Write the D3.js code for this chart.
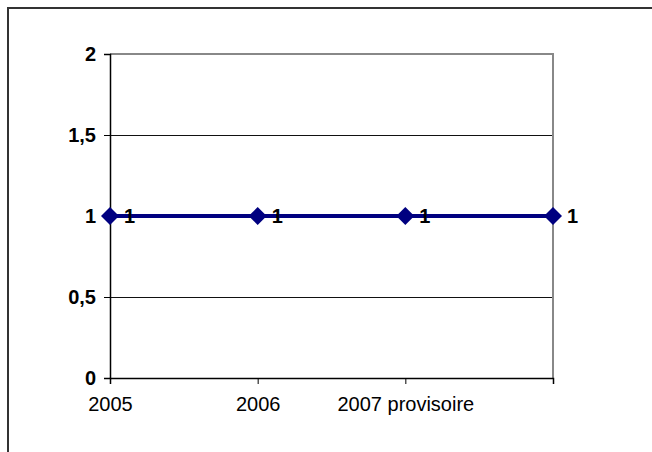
<!DOCTYPE html>
<html>
<head>
<meta charset="utf-8">
<script src="https://cdn.jsdelivr.net/npm/d3@7"></script>
<style>
  html, body { margin: 0; padding: 0; background: #fff; overflow: hidden; }
  svg { display: block; font-family: "Liberation Sans", Arial, sans-serif; }
</style>
</head>
<body>
<div id="chart"></div>
<script>
const categories = ["2005", "2006", "2007 provisoire", ""];
const values = [1, 1, 1, 1];
const yTicks = [0, 0.5, 1, 1.5, 2];

const width = 652, height = 452;
const plot = { left: 110, right: 553, top: 54, bottom: 378 };

const svg = d3.select("#chart").append("svg")
    .attr("width", width)
    .attr("height", height)
    .style("overflow", "hidden");

// outer chart border, cut off at the right and bottom of the picture
svg.append("line")
    .attr("x1", 7).attr("x2", width + 5)
    .attr("y1", 8).attr("y2", 8)
    .attr("stroke", "#333")
    .attr("stroke-width", 2);

svg.append("line")
    .attr("x1", 8).attr("x2", 8)
    .attr("y1", 7).attr("y2", height + 5)
    .attr("stroke", "#333")
    .attr("stroke-width", 2);

const x = d3.scalePoint()
    .domain(categories)
    .range([plot.left, plot.right]);

const y = d3.scaleLinear()
    .domain([0, 2])
    .range([plot.bottom, plot.top]);

const fmt = d => String(d).replace(".", ",");

// gridlines
svg.append("g")
    .selectAll("line")
    .data(yTicks.filter(d => d > 0 && d < 2))
    .join("line")
    .attr("x1", plot.left).attr("x2", plot.right)
    .attr("y1", d => y(d) + 0.5).attr("y2", d => y(d) + 0.5)
    .attr("stroke", "#111")
    .attr("stroke-width", 1);

// top and right plot border
svg.append("path")
    .attr("d", `M${plot.left},${y(2)}H${plot.right}V${plot.bottom}`)
    .attr("fill", "none")
    .attr("stroke", "#888")
    .attr("stroke-width", 2);

const yAxis = svg.append("g")
    .attr("transform", `translate(${plot.left},0)`)
    .call(d3.axisLeft(y).tickValues(yTicks).tickFormat(fmt).tickSize(6).tickPadding(8));

yAxis.selectAll("text")
    .style("font-size", "20px")
    .style("font-weight", "bold")
    .style("fill", "#000");

const xAxis = svg.append("g")
    .attr("transform", `translate(0,${plot.bottom})`)
    .call(d3.axisBottom(x).tickSize(6).tickPadding(13));

xAxis.selectAll("text")
    .style("font-size", "20px")
    .style("fill", "#000");

[yAxis, xAxis].forEach(g => {
    g.select(".domain").attr("stroke", "#000").attr("stroke-width", 1.5);
    g.selectAll(".tick line").attr("stroke", "#000");
});

const line = d3.line()
    .x((d, i) => x(categories[i]))
    .y(d => y(d));

svg.append("path")
    .datum(values)
    .attr("fill", "none")
    .attr("stroke", "#000080")
    .attr("stroke-width", 4)
    .attr("d", line);

svg.append("g")
    .selectAll("path")
    .data(values)
    .join("path")
    .attr("transform", (d, i) => `translate(${x(categories[i])},${y(d)})`)
    .attr("d", "M0,-9L9,0L0,9L-9,0Z")
    .attr("fill", "#000080");

svg.append("g")
    .selectAll("text")
    .data(values)
    .join("text")
    .attr("x", (d, i) => x(categories[i]) + 14)
    .attr("y", d => y(d))
    .attr("dy", "0.36em")
    .style("font-size", "20px")
    .style("font-weight", "bold")
    .text(d => fmt(d));
</script>
</body>
</html>
